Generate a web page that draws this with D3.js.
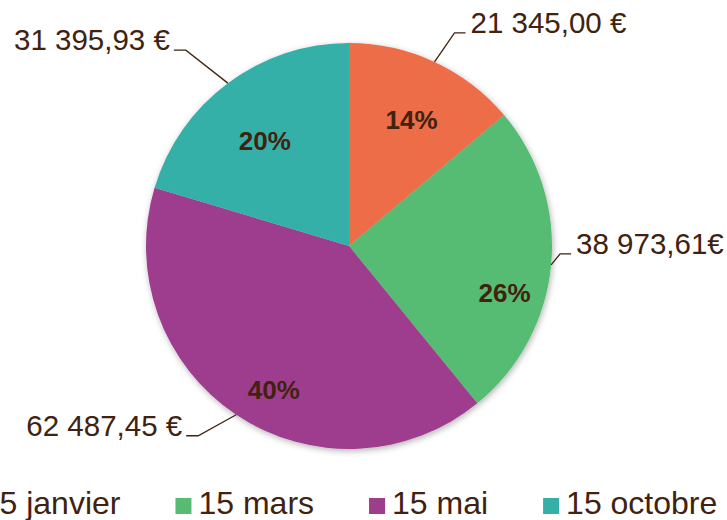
<!DOCTYPE html>
<html>
<head>
<meta charset="utf-8">
<script src="https://cdn.jsdelivr.net/npm/d3@7"></script>
<style>
  body { margin: 0; background: #fff; }
  svg { display: block; font-family: "Liberation Sans", Arial, sans-serif; }
</style>
</head>
<body>
<svg id="chart" width="727" height="520"></svg>
<script>
const categories = ["15 janvier", "15 mars", "15 mai", "15 octobre"];
const amounts = [21345.0, 38973.61, 62487.45, 31395.93];
const amountLabels = ["21 345,00 €", "38 973,61€", "62 487,45 €", "31 395,93 €"];
const percentLabels = ["14%", "26%", "40%", "20%"];
const sliceColors = ["#ec6d47", "#57bb73", "#9e3d8d", "#35b0a8"];

// layout tweaks (Excel "best fit" placement)
const pctNudge = [[1, 6], [10, 33], [6, 22], [3, 12]];
const calloutElbow = [[20, -29], [9, -11], [-38, 21], [-42, -33]];

const textColor = "#40220f";
const cx = 349, cy = 246, radius = 203;

const svg = d3.select("#chart");

const defs = svg.append("defs");
const shadow = defs.append("filter").attr("id", "shadow")
  .attr("x", "-10%").attr("y", "-10%").attr("width", "120%").attr("height", "120%");
shadow.append("feDropShadow")
  .attr("dx", 1).attr("dy", 2).attr("stdDeviation", 3)
  .attr("flood-color", "#000").attr("flood-opacity", 0.3);

const data = categories.map((c, i) => ({
  cat: c, value: amounts[i], amount: amountLabels[i], pct: percentLabels[i], color: sliceColors[i]
}));

const pie = d3.pie().sort(null).value(d => d.value);
const arcs = pie(data);
const arc = d3.arc().innerRadius(0).outerRadius(radius);
const labelArc = d3.arc().innerRadius(radius * 0.72).outerRadius(radius * 0.72);
const edgeArc = d3.arc().innerRadius(radius).outerRadius(radius);

const g = svg.append("g").attr("transform", `translate(${cx},${cy})`);

g.append("g").attr("filter", "url(#shadow)")
  .selectAll("path")
  .data(arcs)
  .join("path")
  .attr("d", arc)
  .attr("fill", d => d.data.color);

// percentage labels
g.selectAll(".pct")
  .data(arcs)
  .join("text")
  .attr("class", "pct")
  .attr("x", d => labelArc.centroid(d)[0] + pctNudge[d.index][0])
  .attr("y", d => labelArc.centroid(d)[1] + pctNudge[d.index][1])
  .attr("text-anchor", "middle")
  .attr("dy", "0.36em")
  .attr("font-size", 26)
  .attr("font-weight", "bold")
  .attr("fill", textColor)
  .text(d => d.data.pct);

// amount callouts with leader lines
const callouts = g.selectAll(".callout")
  .data(arcs)
  .join("g")
  .attr("class", "callout");

callouts.each(function (d) {
  const sel = d3.select(this);
  const [ex, ey] = edgeArc.centroid(d);
  const [ox, oy] = calloutElbow[d.index];
  const bx = ex + ox, by = ey + oy;
  const right = ox > 0;
  const hx = bx + (right ? 11 : -12);
  sel.append("path")
    .attr("d", `M${ex},${ey}L${bx},${by}L${hx},${by}`)
    .attr("fill", "none")
    .attr("stroke", textColor)
    .attr("stroke-width", 1.3);
  sel.append("text")
    .attr("x", hx + (right ? 5 : -4))
    .attr("y", by)
    .attr("text-anchor", right ? "start" : "end")
    .attr("font-size", 29.5)
    .attr("fill", textColor)
    .text(d.data.amount);
});

// legend
const legend = svg.append("g").attr("transform", `translate(0,514)`);
const items = legend.selectAll(".item")
  .data(data)
  .join("g")
  .attr("class", "item");

items.append("rect")
  .attr("y", -16)
  .attr("width", 16)
  .attr("height", 16)
  .attr("fill", d => d.color);

items.append("text")
  .attr("x", 23)
  .attr("font-size", 32)
  .attr("fill", textColor)
  .text(d => d.cat);

let xPos = 0;
const offsets = [];
items.each(function () {
  offsets.push(xPos);
  const w = d3.select(this).select("text").node().getComputedTextLength();
  xPos += 23 + w + 55;
});
const total = xPos - 55;
const start = 338 - total / 2;
items.attr("transform", (d, i) => `translate(${start + offsets[i]},0)`);
</script>
</body>
</html>
